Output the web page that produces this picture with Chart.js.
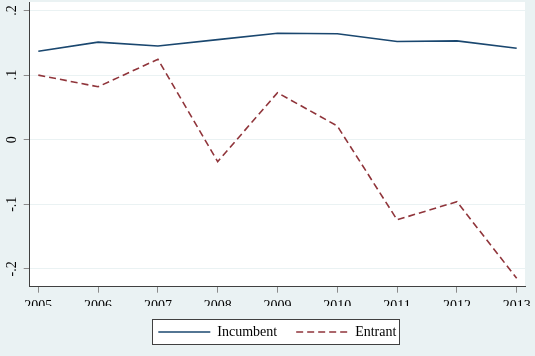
<!DOCTYPE html>
<html><head><meta charset="utf-8">
<script src="https://cdn.jsdelivr.net/npm/chart.js@4"></script>
<style>html,body{margin:0;padding:0;background:#EAF2F3;overflow:hidden}</style>
</head><body>
<canvas id="c" width="535" height="356"></canvas>
<script>
const years = [2005, 2006, 2007, 2008, 2009, 2010, 2011, 2012, 2013];
const incumbent = [0.137, 0.151, 0.145, 0.155, 0.1647, 0.164, 0.152, 0.153, 0.1415];
const entrant = [0.100, 0.082, 0.1245, -0.034, 0.0728, 0.0212, -0.124, -0.096, -0.2146];
const yTickValues = [-0.2, -0.1, 0, 0.1, 0.2];
const yTickLabels = ['-.2', '-.1', '0', '.1', '.2'];
const seriesNames = ['Incumbent', 'Entrant'];

const FONT = {family: "'Liberation Serif', 'DejaVu Serif', serif", size: 14};

const bgPlugin = {
  id: 'bgPlugin',
  beforeDraw(chart) {
    const {ctx, chartArea: a, width, height} = chart;
    ctx.save();
    ctx.fillStyle = '#EAF2F3';
    ctx.fillRect(0, 0, width, height);
    ctx.fillStyle = '#ffffff';
    ctx.fillRect(a.left, a.top, a.right - a.left, a.bottom - a.top);
    const lg = chart.legend;
    if (lg && lg.legendHitBoxes && lg.legendHitBoxes.length) {
      const hb = lg.legendHitBoxes;
      const last = hb[hb.length - 1];
      const x0 = Math.round(hb[0].left - 6) + 0.5;
      const x1 = Math.round(last.left + last.width + 3) + 0.5;
      const cy = hb[0].top + 7;
      const y0 = Math.round(cy - 13.3) + 0.5;
      const y1 = Math.round(cy + 12) + 0.5;
      ctx.fillStyle = '#ffffff';
      ctx.fillRect(x0, y0, x1 - x0, y1 - y0);
      ctx.strokeStyle = '#404040';
      ctx.lineWidth = 1;
      ctx.strokeRect(x0, y0, x1 - x0, y1 - y0);
    }
    ctx.restore();
  }
};

new Chart(document.getElementById('c'), {
  type: 'line',
  data: {
    datasets: [
      {
        label: seriesNames[0],
        data: years.map((y, i) => ({x: y, y: incumbent[i]})),
        borderColor: '#1A476F',
        backgroundColor: '#1A476F',
        borderWidth: 1.6,
        pointRadius: 0,
        tension: 0,
        fill: false
      },
      {
        label: seriesNames[1],
        data: years.map((y, i) => ({x: y, y: entrant[i]})),
        borderColor: '#90353B',
        backgroundColor: '#90353B',
        borderWidth: 1.6,
        borderDash: [7, 4],
        pointRadius: 0,
        tension: 0,
        fill: false
      }
    ]
  },
  options: {
    responsive: false,
    animation: false,
    events: [],
    layout: {padding: {top: 2, right: 10, bottom: 7, left: 0}},
    plugins: {
      tooltip: {enabled: false},
      legend: {
        position: 'bottom',
        fullSize: false,
        labels: {
          usePointStyle: true,
          pointStyle: 'line',
          pointStyleWidth: 52,
          padding: 19,
          color: '#000',
          font: FONT,
          generateLabels: (chart) => {
            const items = Chart.defaults.plugins.legend.labels.generateLabels(chart);
            items.forEach((it) => {
              const ds = chart.data.datasets[it.datasetIndex];
              it.lineDash = ds.borderDash || [];
              it.lineDashOffset = 0;
              it.lineWidth = ds.borderWidth;
              it.strokeStyle = ds.borderColor;
              it.fillStyle = ds.borderColor;
              it.pointStyle = 'line';
            });
            return items;
          }
        }
      }
    },
    scales: {
      x: {
        type: 'linear',
        min: 2004.856,
        max: 2013.139,
        afterBuildTicks: (s) => { s.ticks = years.map(v => ({value: v})); },
        afterFit: (s) => { s.height = 19.3; s.paddingLeft = 0; s.paddingRight = 0; },
        ticks: {
          autoSkip: false,
          maxRotation: 0,
          minRotation: 0,
          padding: 5.5,
          color: '#000',
          font: FONT,
          callback: (v) => String(v)
        },
        grid: {
          drawOnChartArea: false,
          drawTicks: true,
          tickLength: 6,
          tickColor: '#8a8a8a',
          tickWidth: 1
        },
        border: {display: true, color: '#404040', width: 1}
      },
      y: {
        type: 'linear',
        min: -0.2276,
        max: 0.2132,
        afterBuildTicks: (s) => { s.ticks = yTickValues.map(v => ({value: v})); },
        afterFit: (s) => { s.width = 29.7; s.paddingTop = 0; s.paddingBottom = 0; },
        ticks: {
          autoSkip: false,
          minRotation: 90,
          maxRotation: 90,
          crossAlign: 'center',
          padding: 3.8,
          color: '#000',
          font: FONT,
          callback: (v) => {
            const i = yTickValues.findIndex(t => Math.abs(t - v) < 1e-9);
            return i >= 0 ? yTickLabels[i] : '';
          }
        },
        grid: {
          color: '#EAF2F3',
          lineWidth: 1,
          drawTicks: true,
          tickLength: 6,
          tickColor: '#8a8a8a',
          tickWidth: 1
        },
        border: {display: true, color: '#404040', width: 1}
      }
    }
  },
  plugins: [bgPlugin]
});
</script>
</body></html>
